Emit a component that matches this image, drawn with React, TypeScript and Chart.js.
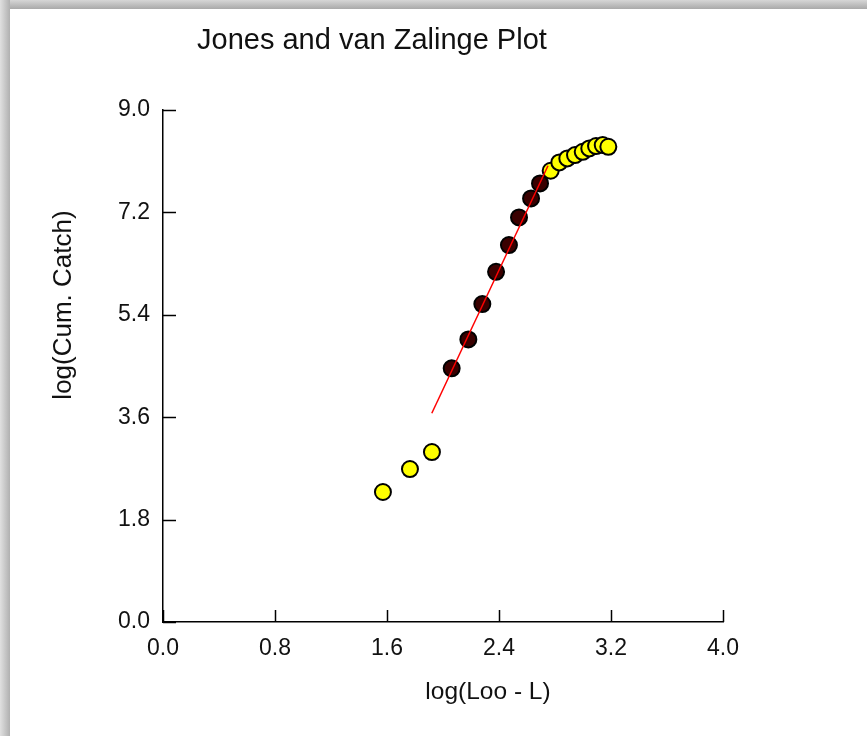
import React, { useEffect, useRef } from "react";
import { Chart, registerables } from "chart.js";

Chart.register(...registerables);

// Data
const titleText = "Jones and van Zalinge Plot";
const xTitle = "log(Loo - L)";
const yTitle = "log(Cum. Catch)";

const lowerYellowX = [1.571, 1.764, 1.921];
const lowerYellowY = [2.285, 2.689, 2.988];

const darkX = [2.062, 2.181, 2.281, 2.379, 2.471, 2.543, 2.629, 2.693];
const darkY = [4.459, 4.968, 5.589, 6.156, 6.626, 7.112, 7.446, 7.71];

const upperYellowX = [2.769, 2.831, 2.888, 2.943, 2.998, 3.045, 3.093, 3.141, 3.181];
const upperYellowY = [7.932, 8.079, 8.149, 8.207, 8.265, 8.325, 8.366, 8.383, 8.353];

const fitX = [1.92, 2.75];
const fitY = [3.67, 8.02];

const xMin = 0, xMax = 4, xStep = 0.8;
const yMin = 0, yMax = 9, yStep = 1.8;

const FONT = "'Liberation Sans', Arial, sans-serif";

const zip = (xs: number[], ys: number[]) => xs.map((x, i) => ({ x, y: ys[i] }));

const decorPlugin = {
  id: "decor",
  afterDraw(chart: any) {
    const ctx = chart.ctx as CanvasRenderingContext2D;
    const xs = chart.scales.x;
    const ys = chart.scales.y;
    const area = chart.chartArea;
    ctx.save();
    // inward ticks
    ctx.strokeStyle = "#000";
    ctx.lineWidth = 1.5;
    xs.ticks.forEach((t: any) => {
      const px = Math.round(xs.getPixelForValue(t.value)) + 0.5;
      ctx.beginPath();
      ctx.moveTo(px, area.bottom);
      ctx.lineTo(px, area.bottom - 12);
      ctx.stroke();
    });
    ys.ticks.forEach((t: any) => {
      const py = Math.round(ys.getPixelForValue(t.value)) + 0.5;
      ctx.beginPath();
      ctx.moveTo(area.left, py);
      ctx.lineTo(area.left + 13, py);
      ctx.stroke();
    });
    // title
    ctx.fillStyle = "#111";
    ctx.font = `29px ${FONT}`;
    ctx.textAlign = "left";
    ctx.textBaseline = "alphabetic";
    ctx.fillText(titleText, 197, 49);
    // x title
    ctx.font = `24.5px ${FONT}`;
    ctx.textAlign = "center";
    ctx.fillText(xTitle, 488, 699);
    // y title
    ctx.font = `26px ${FONT}`;
    ctx.translate(64, 305);
    ctx.rotate(-Math.PI / 2);
    ctx.textBaseline = "middle";
    ctx.fillText(yTitle, 0, 0);
    ctx.restore();
  },
};

function ChartCanvas() {
  const ref = useRef<HTMLCanvasElement | null>(null);
  useEffect(() => {
    if (!ref.current) return;
    const chart = new Chart(ref.current, {
      type: "scatter",
      data: {
        datasets: [
          {
            type: "line",
            data: zip(fitX, fitY),
            borderColor: "#ff0000",
            borderWidth: 1.5,
            pointRadius: 0,
            fill: false,
            order: 0,
          } as any,
          {
            data: zip(upperYellowX, upperYellowY),
            backgroundColor: "#ffff00",
            borderColor: "#000",
            borderWidth: 2,
            pointRadius: 8,
            order: 2,
          },
          {
            data: zip(darkX, darkY),
            backgroundColor: "#3a0000",
            borderColor: "#000",
            borderWidth: 2,
            pointRadius: 8,
            order: 3,
          },
          {
            data: zip(lowerYellowX, lowerYellowY),
            backgroundColor: "#ffff00",
            borderColor: "#000",
            borderWidth: 2,
            pointRadius: 8,
            order: 1,
          },
        ],
      },
      options: {
        responsive: false,
        animation: false,
        layout: { padding: { left: 0, top: 110, right: 144, bottom: 0 } },
        plugins: { legend: { display: false }, tooltip: { enabled: false }, title: { display: false } },
        scales: {
          x: {
            type: "linear",
            min: xMin,
            max: xMax,
            afterFit: (s: any) => { s.height = 114; },
            ticks: {
              stepSize: xStep,
              padding: 13,
              color: "#111",
              font: { family: FONT, size: 23 },
              callback: (v: any) => Number(v).toFixed(1),
            },
            grid: { display: true, drawOnChartArea: false, drawTicks: false },
            border: { display: true, color: "#000", width: 1.5 },
          },
          y: {
            type: "linear",
            min: yMin,
            max: yMax,
            afterFit: (s: any) => { s.width = 163; },
            ticks: {
              stepSize: yStep,
              padding: 13,
              color: "#111",
              font: { family: FONT, size: 23 },
              callback: (v: any) => Number(v).toFixed(1),
            },
            grid: { display: true, drawOnChartArea: false, drawTicks: false },
            border: { display: true, color: "#000", width: 1.5 },
          },
        },
      },
      plugins: [decorPlugin],
    } as any);
    return () => chart.destroy();
  }, []);
  return (
    <canvas
      ref={ref}
      width={867}
      height={736}
      style={{ position: "absolute", left: 0, top: 0, width: 867, height: 736 }}
    />
  );
}

export default function App() {
  return (
    <div style={{ position: "absolute", left: 0, top: 0, width: 867, height: 736, background: "#fff", overflow: "hidden" }}>
      <div style={{ position: "absolute", left: 0, top: 0, width: 867, height: 9, background: "linear-gradient(to bottom, #d6d6d6, #a9a9a9)" }} />
      <div style={{ position: "absolute", left: 0, top: 0, width: 10, height: 736, background: "linear-gradient(to right, #e0e0e0, #b0b0b0)" }} />
      <ChartCanvas />
    </div>
  );
}
